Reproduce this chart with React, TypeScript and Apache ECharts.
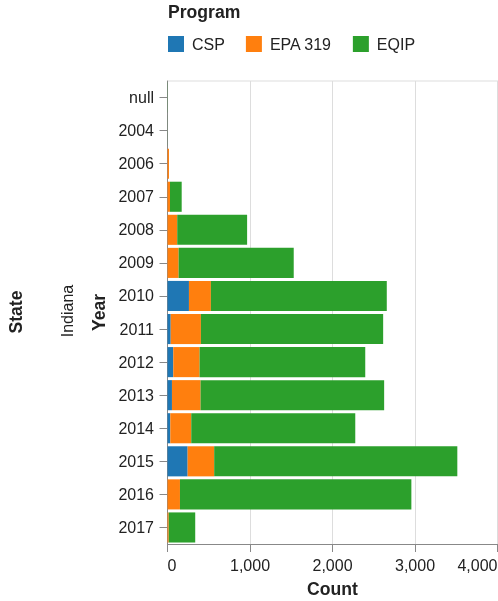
import React, { useEffect, useRef } from "react";
import * as echarts from "echarts";

const years = ["null", "2004", "2006", "2007", "2008", "2009", "2010", "2011", "2012", "2013", "2014", "2015", "2016", "2017"];
const csp = [0, 0, 0, 0, 0, 0, 260, 39, 70, 54, 34, 244, 0, 0];
const epa319 = [0, 0, 18, 30, 118, 135, 266, 366, 319, 347, 254, 322, 151, 15];
const eqip = [2, 1, 0, 142, 847, 1395, 2132, 2209, 2008, 2225, 1988, 2947, 2805, 321];
const programs = ["CSP", "EPA 319", "EQIP"];
const colors = ["#1f77b4", "#ff7f0e", "#2ca02c"];
const xTicks = { min: 0, max: 4000, interval: 1000 };

const FONT = "'Liberation Sans', Arial, Helvetica, sans-serif";

export default function App() {
  const ref = useRef<HTMLDivElement>(null);
  useEffect(() => {
    const chart = echarts.init(ref.current!, undefined, { renderer: "svg" });
    const seriesData = [csp, epa319, eqip];
    chart.setOption({
      animation: false,
      textStyle: { fontFamily: FONT },
      legend: {
        left: 163,
        top: 31,
        itemWidth: 16,
        itemHeight: 16,
        itemGap: 21,
        icon: "rect",
        data: programs,
        textStyle: { fontSize: 16, color: "#222", fontFamily: FONT, padding: [0, 0, 0, 3] },
      },
      grid: { left: 167.5, top: 81, width: 330, height: 463, containLabel: false, outerBoundsMode: "none" },
      xAxis: {
        type: "value",
        min: xTicks.min,
        max: xTicks.max,
        interval: xTicks.interval,
        name: "Count",
        nameLocation: "middle",
        nameGap: 36,
        nameTextStyle: { fontSize: 17.6, fontWeight: "bold", color: "#222", fontFamily: FONT },
        axisLine: { show: true, lineStyle: { color: "#888" } },
        axisTick: { show: true, length: 8, lineStyle: { color: "#888" } },
        axisLabel: {
          fontSize: 16,
          color: "#222",
          margin: 13,
          fontFamily: FONT,
          alignMinLabel: "left",
          alignMaxLabel: "right",
          formatter: (v: number) => v.toLocaleString("en-US"),
        },
        splitLine: { show: true, lineStyle: { color: "#ddd" } },
      },
      yAxis: {
        type: "category",
        data: years,
        inverse: true,
        name: "Year",
        nameLocation: "middle",
        nameGap: 58,
        nameRotate: 90,
        nameTextStyle: { fontSize: 17.6, fontWeight: "bold", color: "#222", fontFamily: FONT },
        axisLine: { show: true, lineStyle: { color: "#888" } },
        axisTick: { show: true, length: 8, alignWithLabel: true, lineStyle: { color: "#888" } },
        axisLabel: { fontSize: 16, color: "#222", margin: 13.5, fontFamily: FONT },
        splitLine: { show: false },
      },
      series: programs.map((p, i) => ({
        name: p,
        type: "bar",
        stack: "total",
        data: seriesData[i],
        barCategoryGap: "9%",
        itemStyle: { color: colors[i] },
      })),
      graphic: [
        {
          type: "text",
          left: 168,
          top: 3,
          style: { text: "Program", font: `bold 17.6px ${FONT}`, fill: "#222" },
        },
        {
          type: "line",
          shape: { x1: 167.5, y1: 81, x2: 498, y2: 81 },
          style: { stroke: "#ddd", lineWidth: 1 },
        },
        {
          type: "text",
          x: 67,
          y: 311,
          rotation: Math.PI / 2,
          style: { text: "Indiana", font: `16px ${FONT}`, fill: "#222", align: "center", verticalAlign: "middle" },
        },
        {
          type: "text",
          x: 16,
          y: 312,
          rotation: Math.PI / 2,
          style: { text: "State", font: `bold 17.6px ${FONT}`, fill: "#222", align: "center", verticalAlign: "middle" },
        },
      ],
    });
    return () => chart.dispose();
  }, []);
  return <div ref={ref} style={{ position: "fixed", left: 0, top: 0, width: 498, height: 601 }} />;
}
